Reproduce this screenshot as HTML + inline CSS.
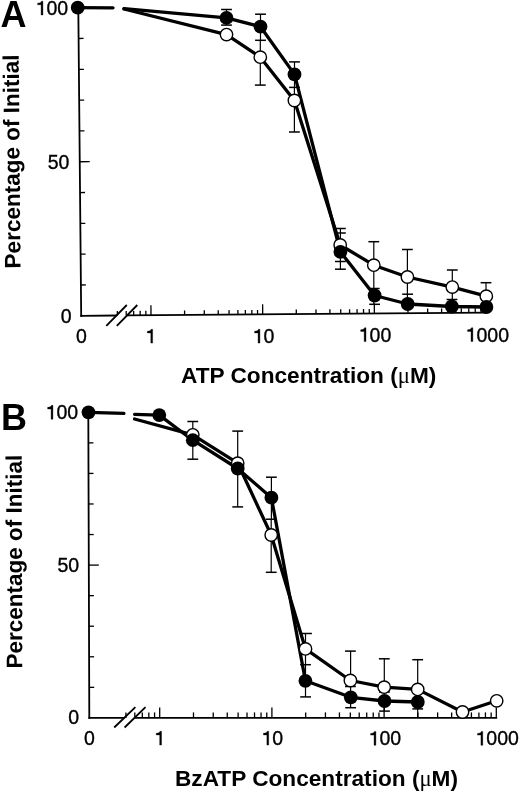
<!DOCTYPE html>
<html><head><meta charset="utf-8"><style>
html,body{margin:0;padding:0;background:#fff;}
svg{display:block;will-change:transform;}
text{font-family:"Liberation Sans",sans-serif;fill:#000;stroke:none;}
</style></head><body>
<svg width="520" height="793" viewBox="0 0 520 793" stroke="#000">
<rect x="0" y="0" width="520" height="793" fill="#fff" stroke="none"/>
<line x1="78.30" y1="7.70" x2="81.20" y2="315.80" stroke-width="1.8" stroke-linecap="square"/>
<line x1="81.20" y1="315.80" x2="115.80" y2="315.53" stroke-width="1.8" stroke-linecap="square"/>
<line x1="126.80" y1="315.44" x2="486.40" y2="312.60" stroke-width="1.8" stroke-linecap="butt"/>
<line x1="80.91" y1="284.99" x2="85.91" y2="284.95" stroke-width="1.3" stroke-linecap="butt"/>
<line x1="80.62" y1="254.18" x2="85.62" y2="254.14" stroke-width="1.3" stroke-linecap="butt"/>
<line x1="80.33" y1="223.37" x2="85.33" y2="223.33" stroke-width="1.3" stroke-linecap="butt"/>
<line x1="80.04" y1="192.56" x2="85.04" y2="192.52" stroke-width="1.3" stroke-linecap="butt"/>
<line x1="79.75" y1="161.75" x2="89.75" y2="161.67" stroke-width="1.3" stroke-linecap="butt"/>
<line x1="79.46" y1="130.94" x2="84.46" y2="130.90" stroke-width="1.3" stroke-linecap="butt"/>
<line x1="79.17" y1="100.13" x2="84.17" y2="100.09" stroke-width="1.3" stroke-linecap="butt"/>
<line x1="78.88" y1="69.32" x2="83.88" y2="69.28" stroke-width="1.3" stroke-linecap="butt"/>
<line x1="78.59" y1="38.51" x2="83.59" y2="38.47" stroke-width="1.3" stroke-linecap="butt"/>
<line x1="151.00" y1="315.25" x2="150.92" y2="305.25" stroke-width="1.3" stroke-linecap="butt"/>
<line x1="184.62" y1="314.98" x2="184.59" y2="310.48" stroke-width="1.3" stroke-linecap="butt"/>
<line x1="204.29" y1="314.83" x2="204.26" y2="310.33" stroke-width="1.3" stroke-linecap="butt"/>
<line x1="218.25" y1="314.72" x2="218.21" y2="310.22" stroke-width="1.3" stroke-linecap="butt"/>
<line x1="229.07" y1="314.63" x2="229.03" y2="310.13" stroke-width="1.3" stroke-linecap="butt"/>
<line x1="237.91" y1="314.56" x2="237.88" y2="310.06" stroke-width="1.3" stroke-linecap="butt"/>
<line x1="245.39" y1="314.50" x2="245.36" y2="310.00" stroke-width="1.3" stroke-linecap="butt"/>
<line x1="251.87" y1="314.45" x2="251.83" y2="309.95" stroke-width="1.3" stroke-linecap="butt"/>
<line x1="257.58" y1="314.41" x2="257.55" y2="309.91" stroke-width="1.3" stroke-linecap="butt"/>
<line x1="262.69" y1="314.37" x2="262.62" y2="304.37" stroke-width="1.3" stroke-linecap="butt"/>
<line x1="296.32" y1="314.10" x2="296.28" y2="309.60" stroke-width="1.3" stroke-linecap="butt"/>
<line x1="315.99" y1="313.95" x2="315.95" y2="309.45" stroke-width="1.3" stroke-linecap="butt"/>
<line x1="329.94" y1="313.84" x2="329.91" y2="309.34" stroke-width="1.3" stroke-linecap="butt"/>
<line x1="340.77" y1="313.75" x2="340.73" y2="309.25" stroke-width="1.3" stroke-linecap="butt"/>
<line x1="349.61" y1="313.68" x2="349.58" y2="309.18" stroke-width="1.3" stroke-linecap="butt"/>
<line x1="357.09" y1="313.62" x2="357.05" y2="309.12" stroke-width="1.3" stroke-linecap="butt"/>
<line x1="363.57" y1="313.57" x2="363.53" y2="309.07" stroke-width="1.3" stroke-linecap="butt"/>
<line x1="369.28" y1="313.52" x2="369.24" y2="309.03" stroke-width="1.3" stroke-linecap="butt"/>
<line x1="374.39" y1="313.48" x2="374.31" y2="303.48" stroke-width="1.3" stroke-linecap="butt"/>
<line x1="408.01" y1="313.22" x2="407.98" y2="308.72" stroke-width="1.3" stroke-linecap="butt"/>
<line x1="427.68" y1="313.06" x2="427.65" y2="308.56" stroke-width="1.3" stroke-linecap="butt"/>
<line x1="441.64" y1="312.95" x2="441.60" y2="308.45" stroke-width="1.3" stroke-linecap="butt"/>
<line x1="452.46" y1="312.87" x2="452.43" y2="308.37" stroke-width="1.3" stroke-linecap="butt"/>
<line x1="461.31" y1="312.80" x2="461.27" y2="308.30" stroke-width="1.3" stroke-linecap="butt"/>
<line x1="468.79" y1="312.74" x2="468.75" y2="308.24" stroke-width="1.3" stroke-linecap="butt"/>
<line x1="475.26" y1="312.69" x2="475.23" y2="308.19" stroke-width="1.3" stroke-linecap="butt"/>
<line x1="480.98" y1="312.64" x2="480.94" y2="308.14" stroke-width="1.3" stroke-linecap="butt"/>
<line x1="486.09" y1="312.60" x2="486.01" y2="302.60" stroke-width="1.3" stroke-linecap="butt"/>
<line x1="117.37" y1="315.51" x2="117.34" y2="311.01" stroke-width="1.3" stroke-linecap="butt"/>
<line x1="126.22" y1="315.44" x2="126.18" y2="310.94" stroke-width="1.3" stroke-linecap="butt"/>
<line x1="133.70" y1="315.39" x2="133.66" y2="310.89" stroke-width="1.3" stroke-linecap="butt"/>
<line x1="140.17" y1="315.33" x2="140.14" y2="310.83" stroke-width="1.3" stroke-linecap="butt"/>
<line x1="145.89" y1="315.29" x2="145.85" y2="310.79" stroke-width="1.3" stroke-linecap="butt"/>
<line x1="106.30" y1="325.80" x2="126.80" y2="305.00" stroke-width="1.8" stroke-linecap="butt"/>
<line x1="116.80" y1="325.80" x2="137.30" y2="305.00" stroke-width="1.8" stroke-linecap="butt"/>
<line x1="226.50" y1="9.50" x2="226.50" y2="25.10" stroke-width="1.2" stroke-linecap="butt"/>
<line x1="260.50" y1="14.20" x2="260.50" y2="40.30" stroke-width="1.2" stroke-linecap="butt"/>
<line x1="260.30" y1="40.30" x2="260.30" y2="85.10" stroke-width="1.2" stroke-linecap="butt"/>
<line x1="294.50" y1="61.90" x2="294.50" y2="87.40" stroke-width="1.2" stroke-linecap="butt"/>
<line x1="294.40" y1="87.40" x2="294.40" y2="132.00" stroke-width="1.2" stroke-linecap="butt"/>
<line x1="340.40" y1="228.50" x2="340.40" y2="269.20" stroke-width="1.2" stroke-linecap="butt"/>
<line x1="373.80" y1="241.70" x2="373.80" y2="304.30" stroke-width="1.2" stroke-linecap="butt"/>
<line x1="407.40" y1="249.50" x2="407.40" y2="304.00" stroke-width="1.2" stroke-linecap="butt"/>
<line x1="452.30" y1="270.00" x2="452.30" y2="306.00" stroke-width="1.2" stroke-linecap="butt"/>
<line x1="486.00" y1="282.70" x2="486.00" y2="300.00" stroke-width="1.2" stroke-linecap="butt"/>
<line x1="221.10" y1="9.50" x2="231.90" y2="9.50" stroke-width="1.5" stroke-linecap="butt"/>
<line x1="221.10" y1="25.10" x2="231.90" y2="25.10" stroke-width="1.5" stroke-linecap="butt"/>
<line x1="255.10" y1="14.20" x2="265.90" y2="14.20" stroke-width="1.5" stroke-linecap="butt"/>
<line x1="255.10" y1="40.30" x2="265.90" y2="40.30" stroke-width="1.5" stroke-linecap="butt"/>
<line x1="254.90" y1="85.10" x2="265.70" y2="85.10" stroke-width="1.5" stroke-linecap="butt"/>
<line x1="289.10" y1="61.90" x2="299.90" y2="61.90" stroke-width="1.5" stroke-linecap="butt"/>
<line x1="289.10" y1="87.40" x2="299.90" y2="87.40" stroke-width="1.5" stroke-linecap="butt"/>
<line x1="289.00" y1="132.00" x2="299.80" y2="132.00" stroke-width="1.5" stroke-linecap="butt"/>
<line x1="335.00" y1="228.50" x2="345.80" y2="228.50" stroke-width="1.5" stroke-linecap="butt"/>
<line x1="335.00" y1="233.00" x2="345.80" y2="233.00" stroke-width="1.5" stroke-linecap="butt"/>
<line x1="335.00" y1="261.50" x2="345.80" y2="261.50" stroke-width="1.5" stroke-linecap="butt"/>
<line x1="335.00" y1="269.20" x2="345.80" y2="269.20" stroke-width="1.5" stroke-linecap="butt"/>
<line x1="368.40" y1="241.70" x2="379.20" y2="241.70" stroke-width="1.5" stroke-linecap="butt"/>
<line x1="368.80" y1="288.50" x2="379.60" y2="288.50" stroke-width="1.5" stroke-linecap="butt"/>
<line x1="369.20" y1="304.30" x2="380.00" y2="304.30" stroke-width="1.5" stroke-linecap="butt"/>
<line x1="402.00" y1="249.50" x2="412.80" y2="249.50" stroke-width="1.5" stroke-linecap="butt"/>
<line x1="402.20" y1="294.20" x2="413.00" y2="294.20" stroke-width="1.5" stroke-linecap="butt"/>
<line x1="446.90" y1="270.00" x2="457.70" y2="270.00" stroke-width="1.5" stroke-linecap="butt"/>
<line x1="446.60" y1="299.50" x2="457.40" y2="299.50" stroke-width="1.5" stroke-linecap="butt"/>
<line x1="480.60" y1="282.70" x2="491.40" y2="282.70" stroke-width="1.5" stroke-linecap="butt"/>
<polyline points="77.70,7.70 113.00,7.80" fill="none" stroke-width="3.3" stroke-linejoin="round" stroke-linecap="round"/>
<polyline points="124.00,8.70 226.50,17.90 260.50,26.70 294.50,74.40 340.40,251.80 374.60,295.50 407.70,304.00 451.80,306.50 486.40,307.00" fill="none" stroke-width="3.3" stroke-linejoin="round" stroke-linecap="round"/>
<polyline points="124.00,9.00 226.50,34.60 260.30,57.20 294.40,100.50 340.20,245.00 373.80,265.20 407.40,277.00 452.30,287.10 486.30,296.20" fill="none" stroke-width="3.3" stroke-linejoin="round" stroke-linecap="round"/>
<circle cx="226.50" cy="34.60" r="6.20" fill="#fff" stroke-width="1.4"/>
<circle cx="260.30" cy="57.20" r="6.20" fill="#fff" stroke-width="1.4"/>
<circle cx="294.40" cy="100.50" r="6.20" fill="#fff" stroke-width="1.4"/>
<circle cx="340.20" cy="245.00" r="6.20" fill="#fff" stroke-width="1.4"/>
<circle cx="373.80" cy="265.20" r="6.20" fill="#fff" stroke-width="1.4"/>
<circle cx="407.40" cy="277.00" r="6.20" fill="#fff" stroke-width="1.4"/>
<circle cx="452.30" cy="287.10" r="6.20" fill="#fff" stroke-width="1.4"/>
<circle cx="486.30" cy="296.20" r="6.20" fill="#fff" stroke-width="1.4"/>
<circle cx="77.70" cy="7.70" r="6.9" fill="#000" stroke="none"/>
<circle cx="226.50" cy="17.90" r="6.9" fill="#000" stroke="none"/>
<circle cx="260.50" cy="26.70" r="6.9" fill="#000" stroke="none"/>
<circle cx="294.50" cy="74.40" r="6.9" fill="#000" stroke="none"/>
<circle cx="340.40" cy="251.80" r="6.9" fill="#000" stroke="none"/>
<circle cx="374.60" cy="295.50" r="6.9" fill="#000" stroke="none"/>
<circle cx="407.70" cy="304.00" r="6.9" fill="#000" stroke="none"/>
<circle cx="451.80" cy="306.50" r="6.9" fill="#000" stroke="none"/>
<circle cx="486.40" cy="307.00" r="6.9" fill="#000" stroke="none"/>
<line x1="88.30" y1="412.30" x2="89.30" y2="717.90" stroke-width="1.8" stroke-linecap="square"/>
<line x1="89.30" y1="717.90" x2="124.00" y2="717.90" stroke-width="1.8" stroke-linecap="square"/>
<line x1="134.50" y1="717.90" x2="497.20" y2="717.90" stroke-width="1.8" stroke-linecap="butt"/>
<line x1="89.20" y1="687.34" x2="94.20" y2="687.34" stroke-width="1.3" stroke-linecap="butt"/>
<line x1="89.10" y1="656.78" x2="94.10" y2="656.78" stroke-width="1.3" stroke-linecap="butt"/>
<line x1="89.00" y1="626.22" x2="94.00" y2="626.22" stroke-width="1.3" stroke-linecap="butt"/>
<line x1="88.90" y1="595.66" x2="93.90" y2="595.66" stroke-width="1.3" stroke-linecap="butt"/>
<line x1="88.80" y1="565.10" x2="98.80" y2="565.10" stroke-width="1.3" stroke-linecap="butt"/>
<line x1="88.70" y1="534.54" x2="93.70" y2="534.54" stroke-width="1.3" stroke-linecap="butt"/>
<line x1="88.60" y1="503.98" x2="93.60" y2="503.98" stroke-width="1.3" stroke-linecap="butt"/>
<line x1="88.50" y1="473.42" x2="93.50" y2="473.42" stroke-width="1.3" stroke-linecap="butt"/>
<line x1="88.40" y1="442.86" x2="93.40" y2="442.86" stroke-width="1.3" stroke-linecap="butt"/>
<line x1="159.70" y1="717.90" x2="159.70" y2="707.40" stroke-width="1.3" stroke-linecap="butt"/>
<line x1="193.48" y1="717.90" x2="193.48" y2="712.40" stroke-width="1.3" stroke-linecap="butt"/>
<line x1="213.23" y1="717.90" x2="213.23" y2="712.40" stroke-width="1.3" stroke-linecap="butt"/>
<line x1="227.25" y1="717.90" x2="227.25" y2="712.40" stroke-width="1.3" stroke-linecap="butt"/>
<line x1="238.12" y1="717.90" x2="238.12" y2="712.40" stroke-width="1.3" stroke-linecap="butt"/>
<line x1="247.01" y1="717.90" x2="247.01" y2="712.40" stroke-width="1.3" stroke-linecap="butt"/>
<line x1="254.52" y1="717.90" x2="254.52" y2="712.40" stroke-width="1.3" stroke-linecap="butt"/>
<line x1="261.03" y1="717.90" x2="261.03" y2="712.40" stroke-width="1.3" stroke-linecap="butt"/>
<line x1="266.77" y1="717.90" x2="266.77" y2="712.40" stroke-width="1.3" stroke-linecap="butt"/>
<line x1="271.90" y1="717.90" x2="271.90" y2="707.40" stroke-width="1.3" stroke-linecap="butt"/>
<line x1="305.68" y1="717.90" x2="305.68" y2="712.40" stroke-width="1.3" stroke-linecap="butt"/>
<line x1="325.43" y1="717.90" x2="325.43" y2="712.40" stroke-width="1.3" stroke-linecap="butt"/>
<line x1="339.45" y1="717.90" x2="339.45" y2="712.40" stroke-width="1.3" stroke-linecap="butt"/>
<line x1="350.32" y1="717.90" x2="350.32" y2="712.40" stroke-width="1.3" stroke-linecap="butt"/>
<line x1="359.21" y1="717.90" x2="359.21" y2="712.40" stroke-width="1.3" stroke-linecap="butt"/>
<line x1="366.72" y1="717.90" x2="366.72" y2="712.40" stroke-width="1.3" stroke-linecap="butt"/>
<line x1="373.23" y1="717.90" x2="373.23" y2="712.40" stroke-width="1.3" stroke-linecap="butt"/>
<line x1="378.97" y1="717.90" x2="378.97" y2="712.40" stroke-width="1.3" stroke-linecap="butt"/>
<line x1="384.10" y1="717.90" x2="384.10" y2="707.40" stroke-width="1.3" stroke-linecap="butt"/>
<line x1="417.88" y1="717.90" x2="417.88" y2="712.40" stroke-width="1.3" stroke-linecap="butt"/>
<line x1="437.63" y1="717.90" x2="437.63" y2="712.40" stroke-width="1.3" stroke-linecap="butt"/>
<line x1="451.65" y1="717.90" x2="451.65" y2="712.40" stroke-width="1.3" stroke-linecap="butt"/>
<line x1="462.52" y1="717.90" x2="462.52" y2="712.40" stroke-width="1.3" stroke-linecap="butt"/>
<line x1="471.41" y1="717.90" x2="471.41" y2="712.40" stroke-width="1.3" stroke-linecap="butt"/>
<line x1="478.92" y1="717.90" x2="478.92" y2="712.40" stroke-width="1.3" stroke-linecap="butt"/>
<line x1="485.43" y1="717.90" x2="485.43" y2="712.40" stroke-width="1.3" stroke-linecap="butt"/>
<line x1="491.17" y1="717.90" x2="491.17" y2="712.40" stroke-width="1.3" stroke-linecap="butt"/>
<line x1="496.30" y1="717.90" x2="496.30" y2="707.40" stroke-width="1.3" stroke-linecap="butt"/>
<line x1="125.92" y1="717.90" x2="125.92" y2="712.40" stroke-width="1.3" stroke-linecap="butt"/>
<line x1="134.81" y1="717.90" x2="134.81" y2="712.40" stroke-width="1.3" stroke-linecap="butt"/>
<line x1="142.32" y1="717.90" x2="142.32" y2="712.40" stroke-width="1.3" stroke-linecap="butt"/>
<line x1="148.83" y1="717.90" x2="148.83" y2="712.40" stroke-width="1.3" stroke-linecap="butt"/>
<line x1="154.57" y1="717.90" x2="154.57" y2="712.40" stroke-width="1.3" stroke-linecap="butt"/>
<line x1="114.20" y1="727.50" x2="135.40" y2="707.10" stroke-width="1.8" stroke-linecap="butt"/>
<line x1="124.60" y1="727.50" x2="145.50" y2="707.10" stroke-width="1.8" stroke-linecap="butt"/>
<line x1="192.80" y1="421.50" x2="192.80" y2="459.20" stroke-width="1.2" stroke-linecap="butt"/>
<line x1="237.70" y1="431.10" x2="237.70" y2="506.90" stroke-width="1.2" stroke-linecap="butt"/>
<line x1="271.40" y1="477.20" x2="271.40" y2="519.20" stroke-width="1.2" stroke-linecap="butt"/>
<line x1="271.20" y1="519.20" x2="271.20" y2="572.30" stroke-width="1.2" stroke-linecap="butt"/>
<line x1="305.50" y1="633.50" x2="305.50" y2="696.90" stroke-width="1.2" stroke-linecap="butt"/>
<line x1="350.60" y1="651.10" x2="350.60" y2="707.70" stroke-width="1.2" stroke-linecap="butt"/>
<line x1="384.30" y1="658.80" x2="384.30" y2="711.10" stroke-width="1.2" stroke-linecap="butt"/>
<line x1="417.70" y1="659.70" x2="417.70" y2="717.00" stroke-width="1.2" stroke-linecap="butt"/>
<line x1="187.40" y1="421.50" x2="198.20" y2="421.50" stroke-width="1.5" stroke-linecap="butt"/>
<line x1="187.40" y1="459.20" x2="198.20" y2="459.20" stroke-width="1.5" stroke-linecap="butt"/>
<line x1="232.30" y1="431.10" x2="243.10" y2="431.10" stroke-width="1.5" stroke-linecap="butt"/>
<line x1="232.30" y1="506.90" x2="243.10" y2="506.90" stroke-width="1.5" stroke-linecap="butt"/>
<line x1="266.00" y1="477.20" x2="276.80" y2="477.20" stroke-width="1.5" stroke-linecap="butt"/>
<line x1="266.00" y1="519.20" x2="276.80" y2="519.20" stroke-width="1.5" stroke-linecap="butt"/>
<line x1="265.80" y1="572.30" x2="276.60" y2="572.30" stroke-width="1.5" stroke-linecap="butt"/>
<line x1="301.10" y1="633.50" x2="311.90" y2="633.50" stroke-width="1.5" stroke-linecap="butt"/>
<line x1="300.10" y1="664.70" x2="310.90" y2="664.70" stroke-width="1.5" stroke-linecap="butt"/>
<line x1="300.20" y1="696.90" x2="311.00" y2="696.90" stroke-width="1.5" stroke-linecap="butt"/>
<line x1="345.00" y1="651.10" x2="355.80" y2="651.10" stroke-width="1.5" stroke-linecap="butt"/>
<line x1="345.00" y1="686.50" x2="355.80" y2="686.50" stroke-width="1.5" stroke-linecap="butt"/>
<line x1="345.20" y1="707.70" x2="356.00" y2="707.70" stroke-width="1.5" stroke-linecap="butt"/>
<line x1="378.90" y1="658.80" x2="389.70" y2="658.80" stroke-width="1.5" stroke-linecap="butt"/>
<line x1="379.00" y1="692.00" x2="389.80" y2="692.00" stroke-width="1.5" stroke-linecap="butt"/>
<line x1="379.10" y1="711.10" x2="389.90" y2="711.10" stroke-width="1.5" stroke-linecap="butt"/>
<line x1="412.30" y1="659.70" x2="423.10" y2="659.70" stroke-width="1.5" stroke-linecap="butt"/>
<line x1="412.30" y1="708.90" x2="423.10" y2="708.90" stroke-width="1.5" stroke-linecap="butt"/>
<polyline points="88.50,412.30 123.90,413.40" fill="none" stroke-width="3.3" stroke-linejoin="round" stroke-linecap="round"/>
<polyline points="134.60,414.30 159.30,415.10 192.80,440.20 237.70,468.50 271.40,497.70 305.40,680.80 350.80,697.30 384.50,701.00 417.80,702.00" fill="none" stroke-width="3.3" stroke-linejoin="round" stroke-linecap="round"/>
<polyline points="134.60,419.00 192.80,434.80 237.70,463.20 271.20,535.00 305.50,648.90 350.40,680.50 384.20,687.20 417.70,689.40 462.50,712.00 496.70,700.80" fill="none" stroke-width="3.3" stroke-linejoin="round" stroke-linecap="round"/>
<circle cx="192.80" cy="434.80" r="6.20" fill="#fff" stroke-width="1.4"/>
<circle cx="237.70" cy="463.20" r="6.20" fill="#fff" stroke-width="1.4"/>
<circle cx="271.20" cy="535.00" r="6.20" fill="#fff" stroke-width="1.4"/>
<circle cx="305.50" cy="648.90" r="6.20" fill="#fff" stroke-width="1.4"/>
<circle cx="350.40" cy="680.50" r="6.20" fill="#fff" stroke-width="1.4"/>
<circle cx="384.20" cy="687.20" r="6.20" fill="#fff" stroke-width="1.4"/>
<circle cx="417.70" cy="689.40" r="6.20" fill="#fff" stroke-width="1.4"/>
<circle cx="462.50" cy="712.00" r="6.20" fill="#fff" stroke-width="1.4"/>
<circle cx="496.70" cy="700.80" r="6.20" fill="#fff" stroke-width="1.4"/>
<circle cx="88.50" cy="412.30" r="6.9" fill="#000" stroke="none"/>
<circle cx="159.30" cy="415.10" r="6.9" fill="#000" stroke="none"/>
<circle cx="192.80" cy="440.20" r="6.9" fill="#000" stroke="none"/>
<circle cx="237.70" cy="468.50" r="6.9" fill="#000" stroke="none"/>
<circle cx="271.40" cy="497.70" r="6.9" fill="#000" stroke="none"/>
<circle cx="305.40" cy="680.80" r="6.9" fill="#000" stroke="none"/>
<circle cx="350.80" cy="697.30" r="6.9" fill="#000" stroke="none"/>
<circle cx="384.50" cy="701.00" r="6.9" fill="#000" stroke="none"/>
<circle cx="417.80" cy="702.00" r="6.9" fill="#000" stroke="none"/>
<text x="0.60" y="27.00" font-size="36" font-weight="bold" text-anchor="start">A</text>
<text x="0.90" y="430.40" font-size="36" font-weight="bold" text-anchor="start">B</text>
<path d="M0.372,0 L0.372,-0.709 L0.300,-0.709 C0.280,-0.650 0.220,-0.612 0.100,-0.607 L0.100,-0.522 L0.278,-0.522 L0.278,0 Z" transform="translate(35.67 15.00) scale(19.5)" fill="#000" stroke="#000" stroke-width="0.0179" stroke-linejoin="round"/>
<text x="46.52" y="15.00" font-size="19.5" font-weight="normal" text-anchor="start" style="stroke:#000;stroke-width:0.35px">0</text>
<text x="57.36" y="15.00" font-size="19.5" font-weight="normal" text-anchor="start" style="stroke:#000;stroke-width:0.35px">0</text>
<text x="47.72" y="169.00" font-size="19.5" font-weight="normal" text-anchor="start" style="stroke:#000;stroke-width:0.35px">5</text>
<text x="58.56" y="169.00" font-size="19.5" font-weight="normal" text-anchor="start" style="stroke:#000;stroke-width:0.35px">0</text>
<text x="60.66" y="322.70" font-size="19.5" font-weight="normal" text-anchor="start" style="stroke:#000;stroke-width:0.35px">0</text>
<path d="M0.372,0 L0.372,-0.709 L0.300,-0.709 C0.280,-0.650 0.220,-0.612 0.100,-0.607 L0.100,-0.522 L0.278,-0.522 L0.278,0 Z" transform="translate(45.67 419.20) scale(19.5)" fill="#000" stroke="#000" stroke-width="0.0179" stroke-linejoin="round"/>
<text x="56.52" y="419.20" font-size="19.5" font-weight="normal" text-anchor="start" style="stroke:#000;stroke-width:0.35px">0</text>
<text x="67.36" y="419.20" font-size="19.5" font-weight="normal" text-anchor="start" style="stroke:#000;stroke-width:0.35px">0</text>
<text x="57.42" y="572.00" font-size="19.5" font-weight="normal" text-anchor="start" style="stroke:#000;stroke-width:0.35px">5</text>
<text x="68.26" y="572.00" font-size="19.5" font-weight="normal" text-anchor="start" style="stroke:#000;stroke-width:0.35px">0</text>
<text x="68.36" y="724.00" font-size="19.5" font-weight="normal" text-anchor="start" style="stroke:#000;stroke-width:0.35px">0</text>
<text x="76.08" y="343.20" font-size="19.5" font-weight="normal" text-anchor="start" style="stroke:#000;stroke-width:0.35px">0</text>
<path d="M0.372,0 L0.372,-0.709 L0.300,-0.709 C0.280,-0.650 0.220,-0.612 0.100,-0.607 L0.100,-0.522 L0.278,-0.522 L0.278,0 Z" transform="translate(145.38 343.10) scale(19.5)" fill="#000" stroke="#000" stroke-width="0.0179" stroke-linejoin="round"/>
<path d="M0.372,0 L0.372,-0.709 L0.300,-0.709 C0.280,-0.650 0.220,-0.612 0.100,-0.607 L0.100,-0.522 L0.278,-0.522 L0.278,0 Z" transform="translate(252.66 343.10) scale(19.5)" fill="#000" stroke="#000" stroke-width="0.0179" stroke-linejoin="round"/>
<text x="263.50" y="343.10" font-size="19.5" font-weight="normal" text-anchor="start" style="stroke:#000;stroke-width:0.35px">0</text>
<path d="M0.372,0 L0.372,-0.709 L0.300,-0.709 C0.280,-0.650 0.220,-0.612 0.100,-0.607 L0.100,-0.522 L0.278,-0.522 L0.278,0 Z" transform="translate(358.74 341.60) scale(19.5)" fill="#000" stroke="#000" stroke-width="0.0179" stroke-linejoin="round"/>
<text x="369.58" y="341.60" font-size="19.5" font-weight="normal" text-anchor="start" style="stroke:#000;stroke-width:0.35px">0</text>
<text x="380.42" y="341.60" font-size="19.5" font-weight="normal" text-anchor="start" style="stroke:#000;stroke-width:0.35px">0</text>
<path d="M0.372,0 L0.372,-0.709 L0.300,-0.709 C0.280,-0.650 0.220,-0.612 0.100,-0.607 L0.100,-0.522 L0.278,-0.522 L0.278,0 Z" transform="translate(465.62 341.60) scale(19.5)" fill="#000" stroke="#000" stroke-width="0.0179" stroke-linejoin="round"/>
<text x="476.46" y="341.60" font-size="19.5" font-weight="normal" text-anchor="start" style="stroke:#000;stroke-width:0.35px">0</text>
<text x="487.30" y="341.60" font-size="19.5" font-weight="normal" text-anchor="start" style="stroke:#000;stroke-width:0.35px">0</text>
<text x="498.14" y="341.60" font-size="19.5" font-weight="normal" text-anchor="start" style="stroke:#000;stroke-width:0.35px">0</text>
<text x="84.08" y="744.50" font-size="19.5" font-weight="normal" text-anchor="start" style="stroke:#000;stroke-width:0.35px">0</text>
<path d="M0.372,0 L0.372,-0.709 L0.300,-0.709 C0.280,-0.650 0.220,-0.612 0.100,-0.607 L0.100,-0.522 L0.278,-0.522 L0.278,0 Z" transform="translate(154.28 745.10) scale(19.5)" fill="#000" stroke="#000" stroke-width="0.0179" stroke-linejoin="round"/>
<path d="M0.372,0 L0.372,-0.709 L0.300,-0.709 C0.280,-0.650 0.220,-0.612 0.100,-0.607 L0.100,-0.522 L0.278,-0.522 L0.278,0 Z" transform="translate(261.46 745.10) scale(19.5)" fill="#000" stroke="#000" stroke-width="0.0179" stroke-linejoin="round"/>
<text x="272.30" y="745.10" font-size="19.5" font-weight="normal" text-anchor="start" style="stroke:#000;stroke-width:0.35px">0</text>
<path d="M0.372,0 L0.372,-0.709 L0.300,-0.709 C0.280,-0.650 0.220,-0.612 0.100,-0.607 L0.100,-0.522 L0.278,-0.522 L0.278,0 Z" transform="translate(368.64 745.30) scale(19.5)" fill="#000" stroke="#000" stroke-width="0.0179" stroke-linejoin="round"/>
<text x="379.48" y="745.30" font-size="19.5" font-weight="normal" text-anchor="start" style="stroke:#000;stroke-width:0.35px">0</text>
<text x="390.32" y="745.30" font-size="19.5" font-weight="normal" text-anchor="start" style="stroke:#000;stroke-width:0.35px">0</text>
<path d="M0.372,0 L0.372,-0.709 L0.300,-0.709 C0.280,-0.650 0.220,-0.612 0.100,-0.607 L0.100,-0.522 L0.278,-0.522 L0.278,0 Z" transform="translate(475.52 745.30) scale(19.5)" fill="#000" stroke="#000" stroke-width="0.0179" stroke-linejoin="round"/>
<text x="486.36" y="745.30" font-size="19.5" font-weight="normal" text-anchor="start" style="stroke:#000;stroke-width:0.35px">0</text>
<text x="497.20" y="745.30" font-size="19.5" font-weight="normal" text-anchor="start" style="stroke:#000;stroke-width:0.35px">0</text>
<text x="508.04" y="745.30" font-size="19.5" font-weight="normal" text-anchor="start" style="stroke:#000;stroke-width:0.35px">0</text>
<text x="19.60" y="161.50" font-size="22.5" font-weight="bold" text-anchor="middle" transform="rotate(-90.5 19.60 161.50)">Percentage of Initial</text>
<text x="22.00" y="561.70" font-size="22.5" font-weight="bold" text-anchor="middle" transform="rotate(-90.2 22.00 561.70)">Percentage of Initial</text>
<text x="181.00" y="382.80" font-size="22.65" font-weight="bold" text-anchor="start">ATP Concentration (<tspan font-weight="normal" font-family="Liberation Serif">μ</tspan>M)</text>
<text x="175.00" y="786.00" font-size="22.65" font-weight="bold" text-anchor="start">BzATP Concentration (<tspan font-weight="normal" font-family="Liberation Serif">μ</tspan>M)</text>
</svg>
</body></html>
